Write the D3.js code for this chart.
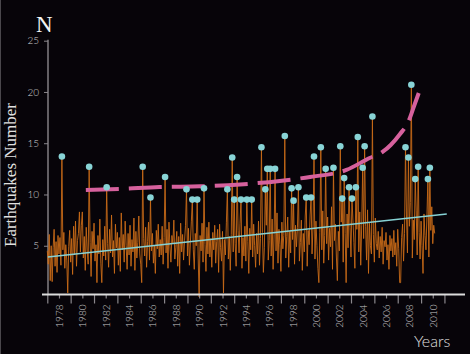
<!DOCTYPE html>
<html>
<head>
<meta charset="utf-8">
<script src="https://cdn.jsdelivr.net/npm/d3@7"></script>
<style>
  html, body { margin: 0; padding: 0; background: #070409; }
  svg { display: block; }
</style>
</head>
<body>
<div id="chart"></div>
<script>
// Monthly earthquake counts, Jan 1977 onwards
const startYear = 1977;
const monthlyCounts = [
  4.5, 3.2, 6.1, 1.6, 5.0, 1.5, 4.8, 6.6, 3.0, 5.4, 2.4, 6.0,   // 1977
  4.2, 5.8, 3.1, 13.7, 4.6, 6.3, 2.8, 5.1, 3.6, 0.4, 4.9, 6.5,  // 1978
  3.4, 5.7, 2.2, 6.9, 4.1, 7.4, 3.0, 5.5, 6.2, 8.3, 4.4, 7.0,   // 1979
  8.3, 3.8, 5.9, 2.6, 6.8, 4.5, 3.2, 12.7, 5.3, 2.0, 6.4, 4.7,  // 1980
  7.2, 3.5, 5.1, 1.4, 6.0, 4.2, 7.6, 3.3, 1.4, 5.6, 4.0, 6.9,   // 1981
  3.6, 10.7, 5.2, 2.9, 6.6, 4.3, 8.0, 3.9, 5.5, 2.3, 7.1, 4.8,  // 1982
  6.3, 3.1, 5.8, 2.5, 8.2, 4.6, 6.1, 3.4, 7.4, 5.0, 2.7, 6.2,   // 1983
  4.1, 7.0, 3.0, 5.6, 4.4, 7.7, 2.6, 6.4, 3.8, 5.3, 7.9, 4.2,   // 1984
  3.2, 1.4, 12.7, 5.7, 4.0, 6.8, 2.9, 5.4, 7.3, 3.6, 9.7, 4.5,  // 1985
  6.2, 3.3, 5.0, 2.3, 6.5, 4.7, 7.1, 3.9, 5.6, 4.1, 6.9, 3.2,   // 1986
  5.8, 11.7, 4.3, 6.6, 2.8, 7.3, 4.9, 3.4, 6.0, 5.2, 7.5, 3.7,  // 1987
  4.8, 6.4, 3.0, 5.9, 2.3, 7.2, 4.4, 6.1, 3.6, 5.5, 7.0, 10.5,  // 1988
  4.0, 6.7, 3.1, 5.3, 7.4, 9.5, 4.6, 2.7, 6.2, 5.0, 9.5, 3.8,   // 1989
  0.0, 6.0, 4.5, 7.2, 3.4, 10.6, 5.1, 2.5, 6.8, 4.2, 7.3, 3.9,  // 1990
  5.7, 2.9, 6.3, 4.6, 7.0, 3.3, 5.4, 6.6, 2.4, 7.1, 4.8, 3.5,   // 1991
  6.4, 0.4, 5.6, 4.1, 7.3, 10.5, 3.7, 5.9, 2.6, 6.1, 13.6, 4.4, // 1992
  9.5, 5.2, 3.0, 11.7, 6.5, 4.3, 7.2, 9.5, 2.8, 5.8, 4.0, 6.9,  // 1993
  3.5, 9.5, 5.4, 2.3, 6.7, 4.6, 9.5, 3.9, 7.1, 5.0, 2.9, 6.2,   // 1994
  4.2, 7.4, 3.1, 5.7, 14.6, 6.3, 2.4, 4.8, 10.5, 7.0, 12.5, 3.6, // 1995
  5.5, 12.5, 4.0, 7.6, 2.7, 6.1, 12.5, 4.5, 8.2, 3.3, 6.6, 5.1, // 1996
  2.5, 7.3, 4.7, 6.0, 15.7, 3.8, 5.9, 7.8, 2.9, 6.4, 4.3, 10.6, // 1997
  5.6, 9.4, 3.2, 7.0, 4.9, 6.8, 10.7, 3.5, 5.3, 7.5, 2.6, 6.2,  // 1998
  4.4, 7.9, 9.7, 3.0, 6.5, 5.1, 8.0, 9.7, 4.2, 6.9, 13.7, 3.7,  // 1999
  7.4, 5.0, 2.8, 1.4, 6.3, 14.6, 4.6, 8.4, 3.3, 6.0, 12.5, 5.2, // 2000
  7.8, 3.6, 6.7, 4.9, 8.8, 2.7, 12.6, 5.5, 7.1, 3.9, 1.6, 6.4,  // 2001
  4.5, 14.7, 7.3, 9.6, 3.4, 11.6, 6.2, 1.4, 8.1, 4.8, 10.7, 6.8, // 2002
  3.9, 9.6, 7.5, 5.3, 2.8, 10.7, 6.6, 15.6, 4.4, 8.3, 3.1, 7.0, // 2003
  12.6, 5.7, 14.7, 6.9, 3.6, 8.5, 2.3, 7.2, 5.0, 4.2, 17.6, 6.1, // 2004
  3.4, 7.7, 5.2, 4.6, 6.4, 3.8, 5.9, 4.4, 6.8, 3.2, 5.5, 4.9,   // 2005
  6.3, 3.6, 5.1, 2.7, 6.0, 4.5, 5.7, 3.9, 6.5, 4.1, 5.3, 3.0,   // 2006
  6.6, 4.7, 1.4, 1.4, 5.8, 7.1, 3.5, 6.2, 14.6, 8.0, 4.3, 13.6, // 2007
  6.9, 9.2, 20.7, 3.8, 7.5, 5.6, 11.5, 8.4, 4.1, 12.7, 6.3, 3.7, // 2008
  7.4, 5.0, 2.3, 8.1, 6.0, 4.6, 7.8, 11.5, 3.9, 12.6, 6.5, 8.8, // 2009
  5.2, 7.0, 6.2                                                 // 2010
];
const peakThreshold = 9.4;   // months at or above this get a dot

// Linear trend line
const trendYears = [1977.05, 2011.2];
const trendValues = [3.9, 8.1];

// Dashed accelerating curve
const curveYears  = [1980.3, 1983.2, 1986.6, 1990.1, 1993.5, 1996.9, 1999.5, 2002.6, 2004.6, 2005.7, 2006.4, 2007.2, 2007.9, 2008.4, 2008.8];
const curveValues = [10.44, 10.54, 10.73, 10.8, 10.98, 11.32, 11.71, 12.39, 13.56, 14.15, 14.83, 15.9, 17.07, 18.63, 19.9];

const yTicks = [5, 10, 15, 20, 25];
const yearLabels = [1978, 1980, 1982, 1984, 1986, 1988, 1990, 1992, 1994, 1996, 1998, 2000, 2002, 2004, 2006, 2008, 2010];
const oddYears = [1977, 1979, 1981, 1983, 1985, 1987, 1989, 1991, 1993, 1995, 1997, 1999, 2001, 2003, 2005, 2007, 2009, 2011];

const width = 470, height = 354;
const axisY = 294.5;

const svg = d3.select("#chart").append("svg")
  .attr("width", width)
  .attr("height", height);

svg.append("rect")
  .attr("width", width).attr("height", height)
  .attr("fill", "#070409");
svg.append("line")
  .attr("x1", 0.5).attr("x2", 0.5).attr("y1", 0).attr("y2", height)
  .attr("stroke", "#4a474c").attr("stroke-width", 1);

const x = d3.scaleLinear().domain([1977, 2013]).range([47.3, 467.8]);
const y = d3.scaleLinear().domain([0, 25]).range([297, 40.7]);

const tickFont = "Lato, 'Open Sans', sans-serif";

// y axis
const gy = svg.append("g").attr("transform", "translate(48,0)")
  .call(d3.axisLeft(y).tickValues(yTicks).tickSize(4).tickPadding(5));
gy.select(".domain").remove();
gy.append("line").attr("x1", 0).attr("x2", 0).attr("y1", y(25) - 1).attr("y2", axisY)
  .attr("stroke", "#8a878c").attr("stroke-width", 1.4);
gy.selectAll(".tick line").attr("stroke", "#8a878c");
gy.selectAll(".tick text")
  .attr("fill", "#cfcfcf")
  .style("font-family", tickFont).style("font-weight", 300).style("font-size", "10px");

// orange monthly series
const series = monthlyCounts.map((v, i) => ({ t: startYear + i / 12, v }));
const line = d3.line().x(d => x(d.t)).y(d => y(d.v));

svg.append("path")
  .datum(series)
  .attr("d", line)
  .attr("fill", "none")
  .attr("stroke", "#c96a17")
  .attr("stroke-width", 1)
  .attr("stroke-linejoin", "miter")
  .attr("opacity", 0.9);

// trend line
svg.append("path")
  .datum(trendYears.map((t, i) => ({ t, v: trendValues[i] })))
  .attr("d", line)
  .attr("fill", "none")
  .attr("stroke", "#86d2d4")
  .attr("stroke-width", 1.5);

// dashed curve
svg.append("path")
  .datum(curveYears.map((t, i) => ({ t, v: curveValues[i] })))
  .attr("d", d3.line().x(d => x(d.t)).y(d => y(d.v)).curve(d3.curveMonotoneX))
  .attr("fill", "none")
  .attr("stroke", "#d6619d")
  .attr("stroke-width", 4)
  .attr("stroke-dasharray", "33 10");

// peak dots
svg.append("g")
  .selectAll("circle")
  .data(series.filter(d => d.v >= peakThreshold))
  .join("circle")
  .attr("cx", d => x(d.t))
  .attr("cy", d => y(d.v))
  .attr("r", 3.3)
  .attr("fill", "#88d4d6");

// x axis: long ticks on odd years, short ticks + labels on even years
const gxLong = svg.append("g").attr("transform", `translate(0,${axisY})`)
  .call(d3.axisBottom(x).tickValues(oddYears).tickSize(9).tickFormat(""));
gxLong.select(".domain").remove();
gxLong.selectAll(".tick line").attr("stroke", "#8a878c").attr("stroke-width", 1.2);

const gx = svg.append("g").attr("transform", `translate(0,${axisY})`)
  .call(d3.axisBottom(x).tickValues(yearLabels).tickSize(4).tickFormat(d3.format("d")));
gx.select(".domain").remove();
gx.selectAll(".tick line").attr("stroke", "#8a878c").attr("stroke-width", 1.2);
gx.selectAll(".tick text")
  .attr("transform", "rotate(-90)")
  .attr("text-anchor", "end")
  .attr("x", -10)
  .attr("y", 0)
  .attr("dy", "0.35em")
  .attr("fill", "#c8c8c8")
  .style("font-family", tickFont).style("font-weight", 300).style("font-size", "10px");

svg.append("line")
  .attr("x1", 42).attr("x2", 465).attr("y1", axisY).attr("y2", axisY)
  .attr("stroke", "#dcdcdc").attr("stroke-width", 2);

// titles
svg.append("text")
  .attr("x", 36).attr("y", 32)
  .attr("fill", "#f2f2f2")
  .style("font-family", "'Liberation Serif', 'DejaVu Serif', serif")
  .style("font-size", "23px")
  .text("N");

svg.append("text")
  .attr("transform", "translate(16,175) rotate(-90)")
  .attr("text-anchor", "middle")
  .attr("fill", "#e0e0e0")
  .style("font-family", "'Liberation Serif', 'DejaVu Serif', serif")
  .style("font-size", "17px")
  .text("Earthquakes Number");

svg.append("text")
  .attr("x", 414).attr("y", 347)
  .attr("fill", "#e0e0e0")
  .style("font-family", tickFont).style("font-weight", 300)
  .style("font-size", "16px")
  .text("Years");
</script>
</body>
</html>
